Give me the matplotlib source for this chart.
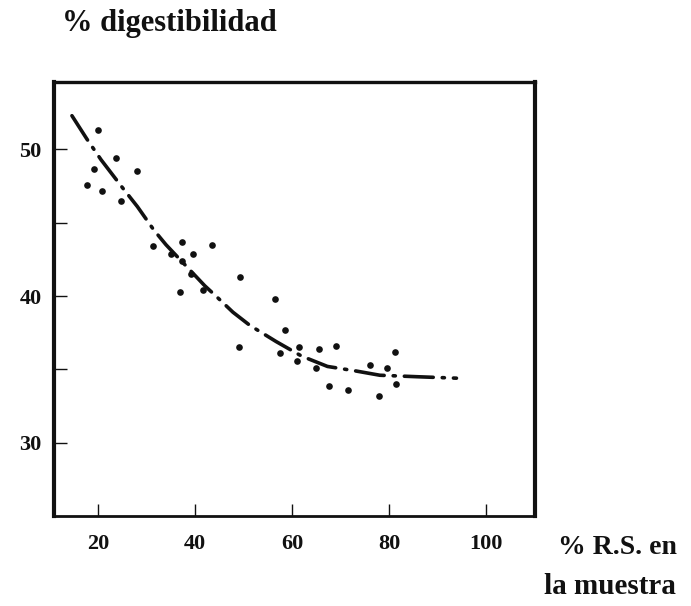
import matplotlib
matplotlib.use("Agg")
import matplotlib.pyplot as plt
from matplotlib.ticker import FixedLocator

# Puntos experimentales (% R.S. en la muestra, % digestibilidad)
pts_x = [19.9, 23.7, 19.1, 28.0, 17.8, 20.8, 24.7, 31.3, 37.3, 43.5, 35.1,
         39.6, 37.4, 39.2, 49.3, 36.8, 41.6, 56.5, 58.6, 57.5, 61.4, 65.6,
         69.1, 61.0, 64.9, 76.1, 79.5, 81.2, 81.4, 67.7, 71.5, 77.9, 49.1]
pts_y = [51.3, 49.4, 48.7, 48.5, 47.6, 47.2, 46.5, 43.4, 43.7, 43.5, 42.9,
         42.9, 42.4, 41.5, 41.3, 40.3, 40.4, 39.8, 37.7, 36.1, 36.5, 36.4,
         36.6, 35.6, 35.1, 35.3, 35.1, 36.2, 34.0, 33.9, 33.6, 33.2, 36.5]

# Curva ajustada
curve_x = [14.6, 17.7, 20.6, 25.0, 28.1, 31.5, 34.0, 38.0, 42.0, 44.3,
           47.8, 51.3, 56.7, 62.0, 67.3, 73.0, 78.1, 85.7, 93.9]
curve_y = [52.3, 50.7, 49.3, 47.4, 46.1, 44.5, 43.5, 42.1, 40.7, 40.0,
           38.9, 38.0, 36.9, 35.9, 35.2, 34.9, 34.6, 34.5, 34.4]

xticks = [20, 40, 60, 80, 100]
yticks = [30, 40, 50]
yminor = [35, 45]

font = "Liberation Serif"
ink = "#111111"

fig = plt.figure(figsize=(6.91, 6.06), dpi=100)
ax = fig.add_axes([54 / 691, 1 - 516 / 606, (535 - 54) / 691, (516 - 82) / 606])

ax.plot(curve_x, curve_y, color=ink, lw=2.6, solid_capstyle="round",
        dash_capstyle="round", dashes=(8, 2.5, 0.6, 2.5))
ax.plot(pts_x, pts_y, "o", color=ink, ms=4.8, mec="none")

ax.set_xlim(10.9, 110.1)
ax.set_ylim(25.0, 54.6)

ax.set_xticks(xticks)
ax.set_yticks(yticks)
ax.yaxis.set_minor_locator(FixedLocator(yminor))
ax.tick_params(axis="both", which="both", direction="in", length=9,
               width=1.0, color=ink)
ax.tick_params(axis="x", pad=13)
ax.tick_params(axis="y", pad=9)
for lab in ax.get_xticklabels() + ax.get_yticklabels():
    lab.set_fontfamily(font)
    lab.set_fontweight("bold")
    lab.set_fontsize(16)
    lab.set_color(ink)

ax.spines["left"].set_linewidth(3.0)
ax.spines["right"].set_linewidth(3.0)
ax.spines["top"].set_linewidth(2.4)
ax.spines["bottom"].set_linewidth(2.0)
for s in ax.spines.values():
    s.set_color(ink)

fig.text(62 / 691, 1 - 23 / 606, "% digestibilidad", family=font,
         weight="bold", fontsize=22, color=ink, va="center", ha="left")
fig.text(617 / 691, 1 - 548 / 606, "% R.S. en", family=font,
         weight="bold", fontsize=20, color=ink, va="center", ha="center")
fig.text(610 / 691, 1 - 587 / 606, "la muestra", family=font,
         weight="bold", fontsize=21, color=ink, va="center", ha="center")

fig.savefig("out.png", dpi=100)
